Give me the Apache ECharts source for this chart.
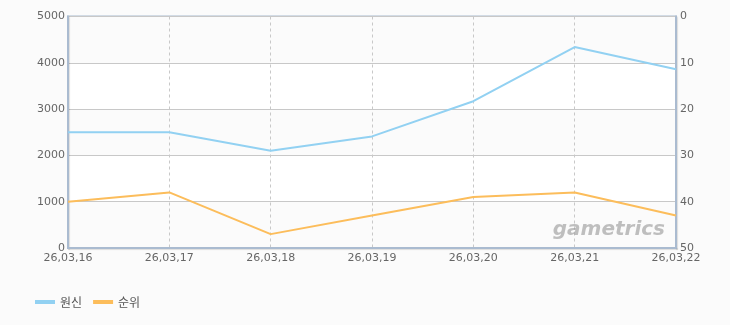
<!DOCTYPE html>
<html>
<head>
<meta charset="utf-8">
<script src="https://cdn.jsdelivr.net/npm/echarts@6/dist/echarts.min.js"></script>
<style>
html,body{margin:0;padding:0;background:#fbfbfb;}
#c{width:730px;height:325px;}
</style>
</head>
<body>
<div id="c"></div>
<script>
var categories = ['26,03,16','26,03,17','26,03,18','26,03,19','26,03,20','26,03,21','26,03,22'];
var genshin = [2500, 2500, 2100, 2410, 3170, 4340, 3860];
var rank = [40, 38, 47, 43, 39, 38, 43];
var leftTicks = [0, 5000, 1000];
var rightTicks = [0, 50, 10];

var chart = echarts.init(document.getElementById('c'), null, {renderer:'canvas'});
var axisLineStyle = {color:'#aabbd0', width:2, shadowColor:'rgba(0,0,0,0.12)', shadowOffsetX:1, shadowOffsetY:1, shadowBlur:1};
var labelStyle = {color:'#666', fontSize:11, fontFamily:'DejaVu Sans, sans-serif'};
function plain(v){ return String(v); }
chart.setOption({
  backgroundColor:'#fbfbfb',
  animation:false,
  grid:{left:68, right:54, top:16.5, bottom:77, show:true, borderColor:'#aabbd0', borderWidth:2, backgroundColor:'transparent'},
  legend:{
    left:30, top:291, itemWidth:20, itemHeight:4, itemGap:11, icon:'rect',
    textStyle:{color:'#555', fontSize:12, fontFamily:'Noto Sans CJK KR, sans-serif'},
    data:['원신','순위']
  },
  xAxis:{
    type:'category', data:categories, boundaryGap:false,
    axisLine:{lineStyle:axisLineStyle},
    axisTick:{show:false},
    axisLabel:Object.assign({margin:5}, labelStyle),
    splitLine:{show:true, lineStyle:{color:'#c8c8c8', type:[3,3], width:1}}
  },
  yAxis:[
    {
      type:'value', min:leftTicks[0], max:leftTicks[1], interval:leftTicks[2], position:'left',
      axisLine:{show:true, lineStyle:axisLineStyle},
      axisTick:{show:false},
      axisLabel:Object.assign({margin:3, formatter:plain}, labelStyle),
      splitLine:{show:true, lineStyle:{color:'#c8c8c8', width:1}},
      splitArea:{show:true, areaStyle:{color:['#fbfbfb','#ffffff']}}
    },
    {
      type:'value', min:rightTicks[0], max:rightTicks[1], interval:rightTicks[2], position:'right', inverse:true,
      axisLine:{show:true, lineStyle:axisLineStyle},
      axisTick:{show:false},
      axisLabel:Object.assign({margin:4, formatter:plain}, labelStyle),
      splitLine:{show:false}
    }
  ],
  graphic:[{
    type:'text', right:65, bottom:85, z:1, silent:true,
    style:{text:'gametrics', fill:'rgba(150,150,150,0.6)', font:'italic bold 20px "DejaVu Sans", sans-serif'}
  }],
  series:[
    {name:'원신', type:'line', yAxisIndex:0, data:genshin, showSymbol:false, symbol:'none',
     itemStyle:{color:'#92d1f2'}, lineStyle:{color:'#92d1f2', width:2}, z:3},
    {name:'순위', type:'line', yAxisIndex:1, data:rank, showSymbol:false, symbol:'none',
     itemStyle:{color:'#fcbd5b'}, lineStyle:{color:'#fcbd5b', width:2}, z:3}
  ]
});
</script>
</body>
</html>
